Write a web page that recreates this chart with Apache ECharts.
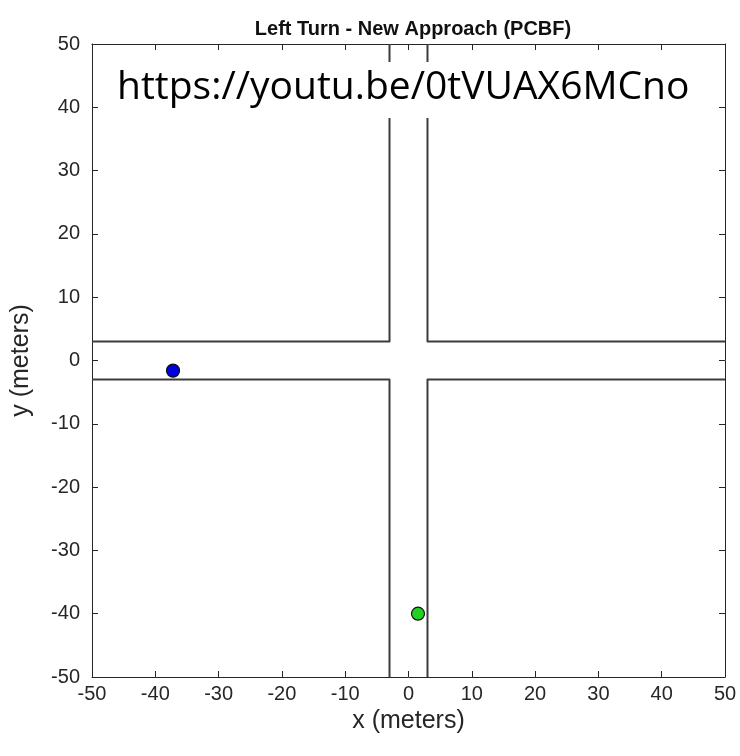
<!DOCTYPE html>
<html>
<head>
<meta charset="utf-8">
<script src="https://cdn.jsdelivr.net/npm/echarts@6/dist/echarts.min.js"></script>
<style>html,body{margin:0;padding:0;background:#fff}#c{width:740px;height:756px}</style>
</head>
<body>
<div id="c"></div>
<script>
const titleText = 'Left Turn - New Approach (PCBF)';
const xName = 'x (meters)';
const yName = 'y (meters)';
const watermark = 'https://youtu.be/0tVUAX6MCno';
const axisMin = -50, axisMax = 50, axisStep = 10;
// road edges (meters)
const roadNW = [[-50, 3], [-3, 3], [-3, 50]];
const roadNE = [[50, 3], [3, 3], [3, 50]];
const roadSW = [[-50, -3], [-3, -3], [-3, -50]];
const roadSE = [[50, -3], [3, -3], [3, -50]];
const blueCar = [[-37.2, -1.6]];
const greenCar = [[1.5, -40]];

const chart = echarts.init(document.getElementById('c'), null, {renderer: 'canvas'});
const font = 'Liberation Sans, Arial, Helvetica, sans-serif';
const axCol = '#262626';
function roadSeries(d) {
  return {type: 'line', data: d, symbol: 'none', silent: true, z: 2,
    lineStyle: {color: '#3c3c3c', width: 2, join: 'round'}};
}
const baseAxis = {
  type: 'value', min: axisMin, max: axisMax, interval: axisStep,
  axisLine: {show: true, onZero: false, lineStyle: {color: axCol, width: 1}},
  axisTick: {show: true, inside: true, length: 6, lineStyle: {color: axCol}},
  splitLine: {show: false}
};
chart.setOption({
  animation: false,
  backgroundColor: '#fff',
  title: {text: titleText, left: 408, textAlign: 'center', top: 14,
    textStyle: {fontFamily: font, fontSize: 20, fontWeight: 'bold', color: '#111'}},
  grid: {left: 92, top: 44, width: 633, height: 633},
  xAxis: [
    Object.assign({}, baseAxis, {position: 'bottom', name: xName, nameLocation: 'middle', nameGap: 30,
      nameTextStyle: {fontFamily: font, fontSize: 25, color: axCol},
      axisLabel: {fontFamily: font, fontSize: 20, color: axCol, margin: 7}}),
    Object.assign({}, baseAxis, {position: 'top', axisLabel: {show: false}})
  ],
  yAxis: [
    Object.assign({}, baseAxis, {position: 'left', name: yName, nameLocation: 'middle', nameGap: 58,
      nameTextStyle: {fontFamily: font, fontSize: 25, color: axCol},
      axisLabel: {fontFamily: font, fontSize: 20, color: axCol, margin: 12}}),
    Object.assign({}, baseAxis, {position: 'right', axisLabel: {show: false}})
  ],
  series: [
    roadSeries(roadNW), roadSeries(roadNE), roadSeries(roadSW), roadSeries(roadSE),
    {type: 'scatter', data: blueCar, symbolSize: 13, z: 3,
      itemStyle: {color: '#0000e0', borderColor: '#111', borderWidth: 1.2, opacity: 1}},
    {type: 'scatter', data: greenCar, symbolSize: 13, z: 3,
      itemStyle: {color: '#22d022', borderColor: '#111', borderWidth: 1.2, opacity: 1}}
  ],
  graphic: [
    {type: 'rect', left: 110, top: 62, shape: {width: 595, height: 56}, style: {fill: '#fff'}, z: 10},
    {type: 'text', left: 117, top: 68, z: 11,
      style: {text: watermark, font: '39px "Open Sans", "Noto Sans", sans-serif', fill: '#000'}}
  ]
});
</script>
</body>
</html>
